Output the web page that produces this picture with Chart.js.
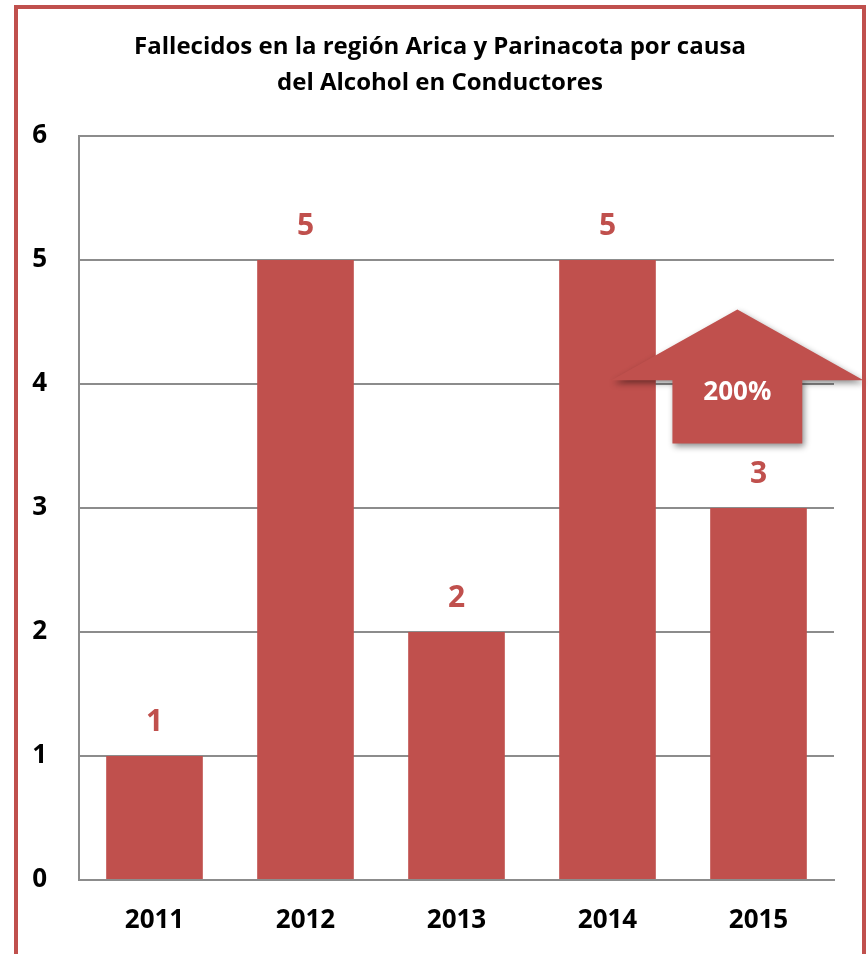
<!DOCTYPE html>
<html>
<head>
<meta charset="utf-8">
<script src="https://cdn.jsdelivr.net/npm/chart.js@4"></script>
<style>
  body { margin: 0; background: #fff; }
  #wrap { position: absolute; left: 0; top: 0; width: 868px; height: 954px; }
  #frame { position: absolute; left: 14px; top: 5px; width: 844px; height: 1000px; border: 4px solid #c0504d; pointer-events: none; }
</style>
</head>
<body>
<div id="wrap"><canvas id="chart" width="868" height="954"></canvas></div>
<div id="frame"></div>
<script>
// datos
const years = ["2011", "2012", "2013", "2014", "2015"];
const deaths = [1, 5, 2, 5, 3];
const yTicks = [0, 1, 2, 3, 4, 5, 6];
const growthLabel = "200%";

const red = "#c0504d";
const font = "'Open Sans', sans-serif";

// etiquetas sobre las barras
const valueLabels = {
  id: "valueLabels",
  afterDatasetsDraw(chart) {
    const ctx = chart.ctx;
    const meta = chart.getDatasetMeta(0);
    ctx.save();
    ctx.fillStyle = red;
    ctx.font = "bold 30px " + font;
    ctx.textAlign = "center";
    ctx.textBaseline = "middle";
    meta.data.forEach(function (bar, i) {
      ctx.fillText(deaths[i], bar.x, bar.y - 34);
    });
    ctx.restore();
  },
};

// flecha 200%
const arrow = {
  id: "arrow",
  afterDraw(chart) {
    const x = chart.scales.x;
    const y = chart.scales.y;
    const step = x.getPixelForValue(1) - x.getPixelForValue(0);
    const cx = x.getPixelForValue(3.86);
    const tip = y.getPixelForValue(4.6);
    const base = y.getPixelForValue(4.03);
    const bottom = y.getPixelForValue(3.52);
    const wing = step * 0.835;
    const shaft = step * 0.43;
    const ctx = chart.ctx;
    ctx.save();
    ctx.shadowColor = "rgba(0,0,0,0.45)";
    ctx.shadowBlur = 6;
    ctx.shadowOffsetX = 2;
    ctx.shadowOffsetY = 3;
    ctx.fillStyle = red;
    ctx.beginPath();
    ctx.moveTo(cx, tip);
    ctx.lineTo(cx + wing, base);
    ctx.lineTo(cx + shaft, base);
    ctx.lineTo(cx + shaft, bottom);
    ctx.lineTo(cx - shaft, bottom);
    ctx.lineTo(cx - shaft, base);
    ctx.lineTo(cx - wing, base);
    ctx.closePath();
    ctx.fill();
    ctx.shadowColor = "transparent";
    ctx.fillStyle = "#fff";
    ctx.font = "bold 26px " + font;
    ctx.textAlign = "center";
    ctx.textBaseline = "middle";
    ctx.fillText(growthLabel, cx, y.getPixelForValue(3.93));
    ctx.restore();
  },
};

new Chart(document.getElementById("chart"), {
  type: "bar",
  data: {
    labels: years,
    datasets: [
      {
        data: deaths,
        backgroundColor: red,
        barPercentage: 1,
        categoryPercentage: 0.64,
      },
    ],
  },
  options: {
    responsive: false,
    animation: false,
    layout: { padding: { left: 12, right: 0, top: 0, bottom: 0 } },
    plugins: {
      legend: { display: false },
      tooltip: { enabled: false },
      title: {
        display: true,
        text: ["Fallecidos en la región Arica y Parinacota por causa", "del Alcohol en Conductores"],
        color: "#000",
        font: { family: font, size: 24, weight: "bold", lineHeight: 1.5 },
        padding: { top: 29, bottom: 35 },
      },
    },
    scales: {
      x: {
        afterFit: function (s) { s.height = 74; },
        grid: { display: false },
        border: { display: true, color: "#8c8c8c", width: 2 },
        ticks: { color: "#000", padding: 17, font: { family: font, size: 26, weight: "bold" } },
      },
      y: {
        min: 0,
        max: 6,
        afterFit: function (s) { s.width = 67; },
        afterBuildTicks: function (s) { s.ticks = yTicks.map(function (v) { return { value: v }; }); },
        grid: { color: "#8c8c8c", lineWidth: 2, drawTicks: false },
        border: { display: true, color: "#8c8c8c", width: 2 },
        ticks: { color: "#000", padding: 32, font: { family: font, size: 26, weight: "bold" } },
      },
      // eje vacío a la derecha, solo para dejar margen
      y2: {
        position: "right",
        afterFit: function (s) { s.width = 34; },
        grid: { display: false },
        border: { display: false },
        ticks: { display: false },
      },
    },
  },
  plugins: [valueLabels, arrow],
});
</script>
</body>
</html>
